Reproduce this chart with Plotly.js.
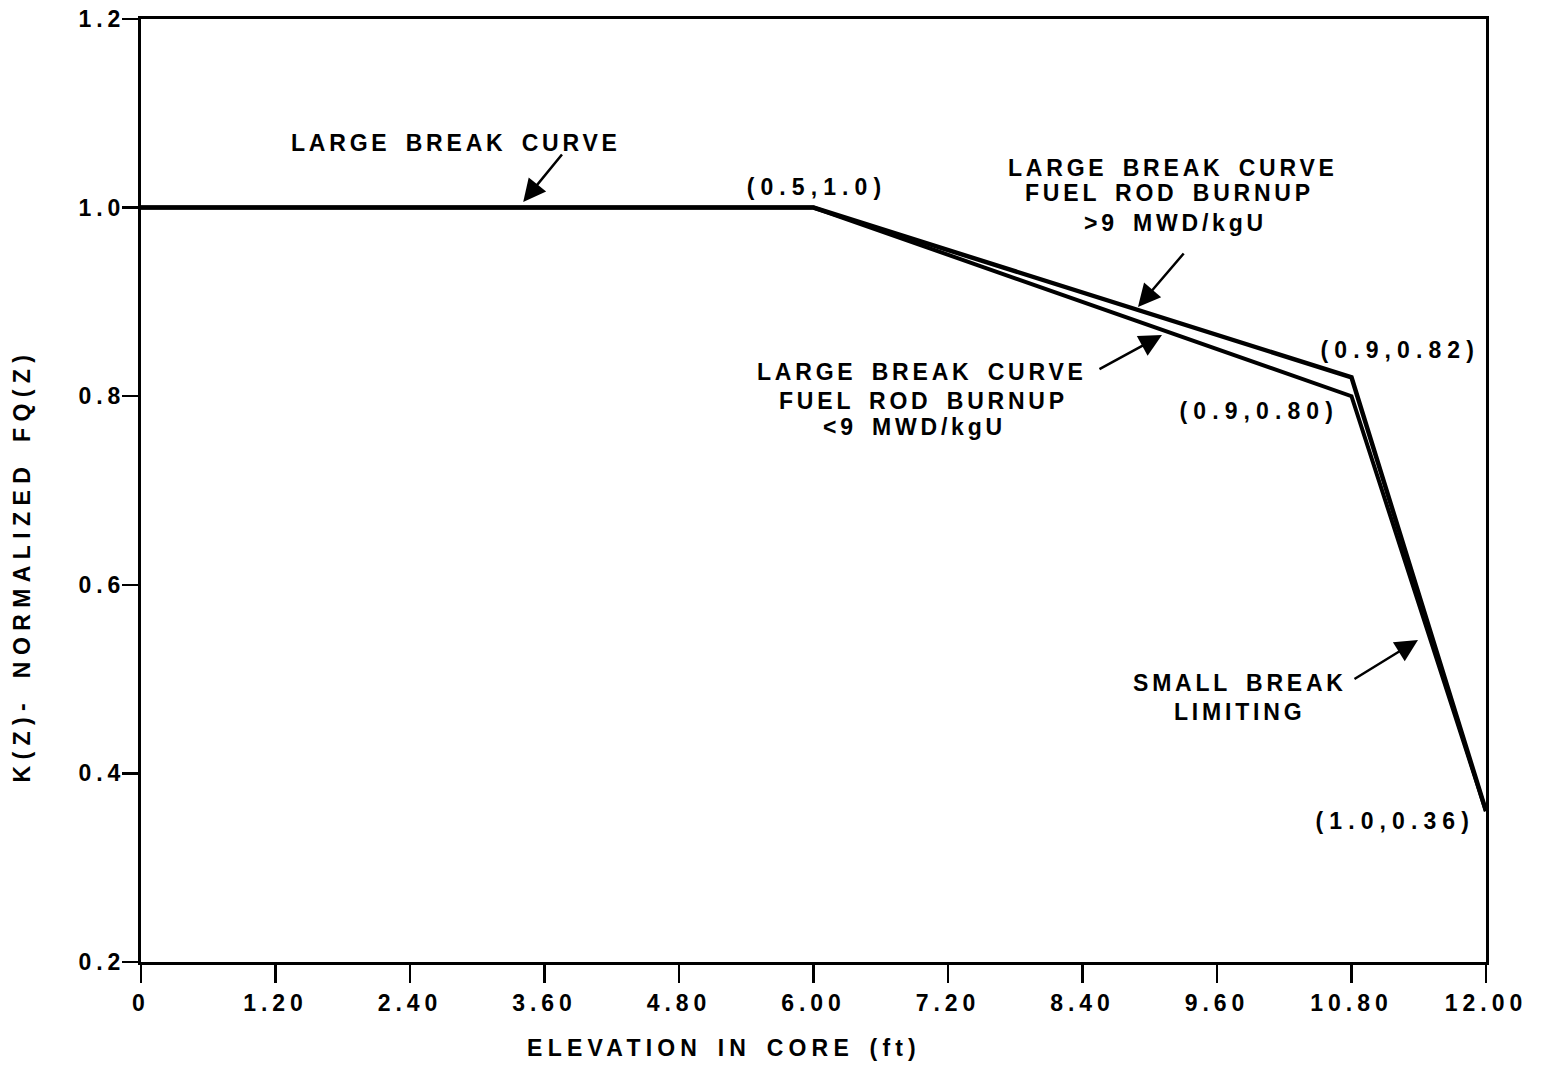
<!DOCTYPE html>
<html>
<head>
<meta charset="utf-8">
<script src="https://cdn.plot.ly/plotly-3.0.1.min.js"></script>
<style>
  html, body { margin: 0; padding: 0; background: #fff; }
  #chart { width: 1541px; height: 1066px; }
  .xtick text, .ytick text { letter-spacing: 5px; }
  .annotation-text { letter-spacing: 3.8px; word-spacing: 5px; }
  g.annotation[data-index="1"] text,
  g.annotation[data-index="10"] text,
  g.annotation[data-index="11"] text,
  g.annotation[data-index="14"] text { letter-spacing: 6.1px; }
  g.annotation[data-index="15"] text { letter-spacing: 5.2px; word-spacing: 4px; }
  g.annotation[data-index="16"] text { letter-spacing: 6.4px; word-spacing: 6px; }
</style>
</head>
<body>
<div id="chart"></div>
<script>
// Elevation in core (ft)
const elevationHigh = [0, 6.0, 10.8, 12.0];
const kzHigh = [1.0, 1.0, 0.82, 0.36];      // large break curve, burnup > 9 MWD/kgU
const elevationLow = [0, 6.0, 10.8, 12.0];
const kzLow = [1.0, 1.0, 0.80, 0.36];       // large break curve, burnup < 9 MWD/kgU

const xTickVals = [0, 1.2, 2.4, 3.6, 4.8, 6.0, 7.2, 8.4, 9.6, 10.8, 12.0];
const xTickText = ["0", "1.20", "2.40", "3.60", "4.80", "6.00", "7.20", "8.40", "9.60", "10.80", "12.00"];
const yTickVals = [0.2, 0.4, 0.6, 0.8, 1.0, 1.2];
const yTickText = ["0.2", "0.4", "0.6", "0.8", "1.0", "1.2"];

const FONT = "Liberation Sans, Arial, Helvetica, sans-serif";
const txtFont = {family: FONT, size: 23, color: "#000", weight: "bold"};

const traces = [
  {x: elevationLow, y: kzLow, mode: "lines", line: {color: "#000", width: 4}, hoverinfo: "skip", showlegend: false},
  {x: elevationHigh, y: kzHigh, mode: "lines", line: {color: "#000", width: 4.5}, hoverinfo: "skip", showlegend: false}
];

const arrowStyle = {showarrow: true, arrowhead: 2, arrowsize: 1.8, arrowwidth: 2.5, arrowcolor: "#000", text: "", axref: "pixel", ayref: "pixel"};

function label(x, y, text) {
  return {x: x, y: y, xref: "x", yref: "y", text: text, showarrow: false, font: txtFont};
}

const annotations = [
  label(2.81, 1.0685, "LARGE BREAK CURVE"),        // 0
  label(6.03, 1.0218, "(0.5,1.0)"),                // 1
  label(9.21, 1.0420, "LARGE BREAK CURVE"),        // 2
  label(9.18, 1.0155, "FUEL ROD BURNUP"),          // 3
  label(9.23, 0.9837, ">9 MWD/kgU"),               // 4
  label(6.965, 0.8257, "LARGE BREAK CURVE"),       // 5
  label(6.98, 0.7949, "FUEL ROD BURNUP"),          // 6
  label(6.90, 0.7673, "<9 MWD/kgU"),               // 7
  label(9.805, 0.4959, "SMALL BREAK"),             // 8
  label(9.80, 0.4651, "LIMITING"),                 // 9
  label(11.23, 0.849, "(0.9,0.82)"),               // 10
  label(9.975, 0.7843, "(0.9,0.80)"),              // 11
  Object.assign({x: 3.41, y: 1.006, xref: "x", yref: "y", ax: 40, ay: -49}, arrowStyle),    // 12
  Object.assign({x: 8.895, y: 0.8946, xref: "x", yref: "y", ax: 47, ay: -55}, arrowStyle),  // 13
  label(11.19, 0.3495, "(1.0,0.36)"),              // 14
  {x: 0.4336, y: -0.0912, xref: "paper", yref: "paper", text: "ELEVATION IN CORE (ft)", showarrow: false, font: txtFont, yanchor: "middle"},  // 15
  {x: -0.0885, y: 0.421, xref: "paper", yref: "paper", text: "K(Z)- NORMALIZED FQ(Z)", textangle: -90, showarrow: false, font: txtFont, xanchor: "center", yanchor: "middle"},  // 16
  Object.assign({x: 9.109, y: 0.8649, xref: "x", yref: "y", ax: -64, ay: 35}, arrowStyle),  // 17
  Object.assign({x: 11.393, y: 0.5415, xref: "x", yref: "y", ax: -65, ay: 40}, arrowStyle)  // 18
];

const layout = {
  width: 1541, height: 1066,
  margin: {l: 141, r: 55, t: 19, b: 104},
  paper_bgcolor: "#fff", plot_bgcolor: "#fff",
  showlegend: false,
  xaxis: {
    range: [0, 12], tickvals: xTickVals, ticktext: xTickText,
    showgrid: false, zeroline: false, showline: true, mirror: true,
    linecolor: "#000", linewidth: 3, ticks: "outside", ticklen: 18, tickwidth: 2.5, tickcolor: "#000",
    tickfont: txtFont, fixedrange: true
  },
  yaxis: {
    range: [0.2, 1.2], tickvals: yTickVals, ticktext: yTickText,
    showgrid: false, zeroline: false, showline: true, mirror: true,
    linecolor: "#000", linewidth: 3, ticks: "outside", ticklen: 16, tickwidth: 2.5, tickcolor: "#000",
    tickfont: txtFont, fixedrange: true, ticklabelstandoff: -8
  },
  annotations: annotations
};

Plotly.newPlot("chart", traces, layout, {displayModeBar: false, staticPlot: true});
</script>
</body>
</html>
